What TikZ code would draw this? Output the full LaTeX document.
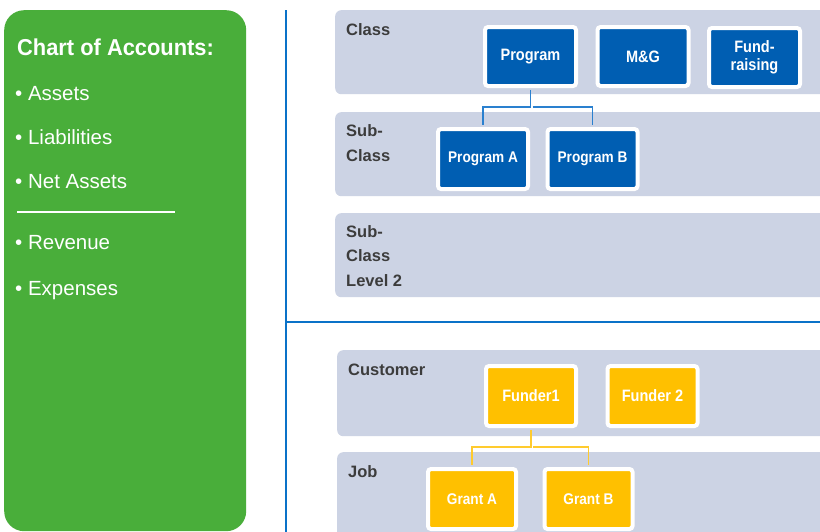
\documentclass[tikz,border=0pt]{standalone}
\usepackage{fontspec}
\setmainfont{Liberation Sans}
\newfontfamily\condfont{Liberation Sans}[FakeStretch=0.88]
\newfontfamily\headfont{Liberation Sans}[FakeStretch=0.95]

\definecolor{acctgreen}{HTML}{49AE3A}
\definecolor{bandgray}{HTML}{CCD3E4}
\definecolor{classblue}{HTML}{005EB2}
\definecolor{ruleblue}{HTML}{0A72C8}
\definecolor{linkblue}{HTML}{2A80CF}
\definecolor{custyellow}{HTML}{FFC000}
\definecolor{linkyellow}{HTML}{FFCB2E}
\definecolor{labelgray}{HTML}{3C3C3C}

\begin{document}
\begin{tikzpicture}[x=1pt,y=-1pt,
  panel/.style={fill=acctgreen, rounded corners=20pt, inner sep=0pt, anchor=north west},
  headtext/.style={anchor=base west, inner sep=0pt, text=white,
    font=\headfont\bfseries\fontsize{23}{26}\selectfont},
  itemtext/.style={anchor=base west, inner sep=0pt, text=white,
    font=\fontsize{20.5}{24}\selectfont},
  band/.style={fill=bandgray, rounded corners=6pt, inner sep=0pt, anchor=north west,
    minimum width=520pt},
  rowlabel/.style={anchor=base west, inner sep=0pt, text=labelgray, align=left,
    font=\bfseries\fontsize{16.5}{24.5}\selectfont},
  unitbox/.style={draw=white, line width=4pt, rounded corners=3pt, inner sep=0pt,
    text=white, align=center, font=\condfont\bfseries\fontsize{16.5}{17.5}\selectfont},
  classbox/.style={unitbox, fill=classblue, minimum width=91pt, minimum height=59pt},
  subbox/.style={unitbox, fill=classblue, minimum width=90pt, minimum height=60pt,
    font=\condfont\bfseries\fontsize{15.5}{17}\selectfont},
  custbox/.style={unitbox, fill=custyellow, minimum width=90pt, minimum height=60pt},
  jobbox/.style={unitbox, fill=custyellow, minimum width=88pt, minimum height=60pt,
    font=\condfont\bfseries\fontsize{15.5}{17}\selectfont},
  bluelink/.style={draw=linkblue, line width=1.5pt, shorten <=2pt, shorten >=2pt},
  yellowlink/.style={draw=linkyellow, line width=1.5pt, shorten <=2pt, shorten >=2pt},
  divider/.style={draw=ruleblue, line width=2.5pt}
]
\clip (0,0) rectangle (820,531);
\fill[white] (0,0) rectangle (820,531);

% chart of accounts panel
\node[panel, minimum width=242pt, minimum height=521pt] (panel) at (4,10) {};
\node[headtext] (head) at (17,55) {Chart of Accounts:};
\node[itemtext] (assets) at (15,100) {• Assets};
\node[itemtext] (liab) at (15,144) {• Liabilities};
\node[itemtext] (netassets) at (15,188) {• Net Assets};
\coordinate (sepl) at (17,212);
\coordinate (sepr) at (175,212);
\draw[white, line width=1.5pt] (sepl) -- (sepr);
\node[itemtext] (revenue) at (15,249) {• Revenue};
\node[itemtext] (expenses) at (15,295) {• Expenses};

% dividing rules
\coordinate (vtop) at (286,10);
\coordinate (vbot) at (286,540);
\coordinate (hleft) at (286,322);
\coordinate (hright) at (830,322);
\draw[divider] (vtop) -- (vbot);
\draw[divider] (hleft) -- (hright);

% dimension bands
\node[band, minimum height=84pt] (bclass) at (335,10) {};
\node[band, minimum height=84pt] (bsub) at (335,112) {};
\node[band, minimum height=84pt] (bsub2) at (335,213) {};
\node[band, minimum height=86pt] (bcust) at (337,350) {};
\node[band, minimum height=100pt] (bjob) at (337,452) {};

% multi-line labels are placed by the baseline of their last line
\node[rowlabel] (lclass) at (346,35) {Class};
\node[rowlabel] (lsub) at (346,161) {Sub-\\Class};
\node[rowlabel] (lsub2) at (346,286) {Sub-\\Class\\Level 2};
\node[rowlabel] (lcust) at (348,375) {Customer};
\node[rowlabel] (ljob) at (348,477) {Job};

% class hierarchy
\node[classbox] (prog) at (530.5,56.5) {Program};
\node[classbox] (mg) at (643,56.5) {M\&G};
\node[classbox] (fund) at (754.5,57.5) {Fund-\\raising};
\node[subbox] (proga) at (483,159) {Program A};
\node[subbox] (progb) at (592.5,159) {Program B};
\coordinate (pjoin) at (530.5,107);
\draw[bluelink] (prog.south) -- (pjoin) -| (proga.north);
\draw[bluelink] (pjoin) -| (progb.north);

% customer / job hierarchy
\node[custbox] (fund1) at (531,396) {Funder1};
\node[custbox] (fund2) at (652.5,396) {Funder 2};
\node[jobbox] (granta) at (472,499) {Grant A};
\node[jobbox] (grantb) at (588.5,499) {Grant B};
\coordinate (fjoin) at (531,447);
\draw[yellowlink] (fund1.south) -- (fjoin) -| (granta.north);
\draw[yellowlink] (fjoin) -| (grantb.north);
\end{tikzpicture}
\end{document}
